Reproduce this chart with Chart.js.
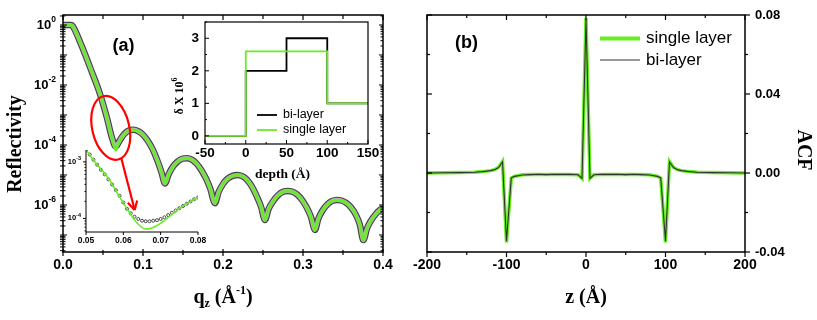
<!DOCTYPE html>
<html>
<head>
<meta charset="utf-8">
<title>Reflectivity and ACF</title>
<script src="https://cdn.jsdelivr.net/npm/chart.js@4.4.1/dist/chart.umd.min.js"></script>
<style>
  body { margin: 0; background: #fff; }
  #wrap { position: relative; width: 817px; height: 320px; overflow: hidden; }
  #wrap canvas { position: absolute; top: 0; }
</style>
</head>
<body>
<div id="wrap">
  <canvas id="reflChart" width="410" height="320" style="left:0"></canvas>
  <canvas id="zoomChart" width="410" height="320" style="left:0"></canvas>
  <canvas id="profileChart" width="410" height="320" style="left:0"></canvas>
  <canvas id="acfChart" width="407" height="320" style="left:410px"></canvas>
</div>
<script>
const SANS = '"Liberation Sans", Arial, sans-serif';
const SERIF = '"Liberation Serif", "Times New Roman", serif';
const GREEN = '#66ee22';

// (a) reflectivity, values kept as log10(R)
const qValues = [0, 0.005, 0.01, 0.012, 0.022, 0.036, 0.046, 0.055, 0.061, 0.066,
    0.069, 0.073, 0.078, 0.083, 0.088, 0.094, 0.100, 0.106, 0.112, 0.118,
    0.123, 0.1275, 0.132, 0.137, 0.143, 0.149, 0.155, 0.161, 0.167, 0.173,
    0.179, 0.184, 0.190, 0.1945, 0.200, 0.206, 0.212, 0.218, 0.224, 0.230,
    0.236, 0.242, 0.2475, 0.2525, 0.257, 0.263, 0.269, 0.275, 0.281, 0.287,
    0.293, 0.299, 0.305, 0.310, 0.315, 0.319, 0.324, 0.330, 0.336, 0.342,
    0.348, 0.354, 0.360, 0.366, 0.371, 0.3755, 0.380, 0.385, 0.391, 0.396, 0.400];
const logReflData = [0, 0, 0, -0.03, -0.61, -1.56, -2.28, -3.10, -3.74, -4.05,
    -3.94, -3.76, -3.60, -3.51, -3.49, -3.54, -3.66, -3.86, -4.14, -4.52,
    -4.90, -5.28, -4.98, -4.74, -4.56, -4.46, -4.44, -4.49, -4.62, -4.84,
    -5.13, -5.45, -5.94, -5.57, -5.30, -5.12, -5.03, -5.00, -5.04, -5.16,
    -5.38, -5.70, -6.05, -6.50, -6.13, -5.86, -5.67, -5.56, -5.53, -5.56,
    -5.66, -5.84, -6.10, -6.40, -6.83, -6.47, -6.20, -5.99, -5.87, -5.83,
    -5.85, -5.93, -6.08, -6.32, -6.65, -7.17, -6.78, -6.52, -6.30, -6.17, -6.10];
const logReflFit = [0, 0, 0, -0.03, -0.61, -1.56, -2.28, -3.10, -3.76, -4.18,
    -3.98, -3.76, -3.60, -3.51, -3.49, -3.54, -3.66, -3.86, -4.14, -4.52,
    -4.90, -5.28, -4.98, -4.74, -4.56, -4.46, -4.44, -4.49, -4.62, -4.84,
    -5.13, -5.45, -5.94, -5.57, -5.30, -5.12, -5.03, -5.00, -5.04, -5.16,
    -5.38, -5.70, -6.05, -6.50, -6.13, -5.86, -5.67, -5.56, -5.53, -5.56,
    -5.66, -5.84, -6.10, -6.40, -6.83, -6.47, -6.20, -5.99, -5.87, -5.83,
    -5.85, -5.93, -6.08, -6.32, -6.65, -7.17, -6.78, -6.52, -6.30, -6.17, -6.10];
const qTicks = ['0.0', '0.1', '0.2', '0.3', '0.4'];
const qMinorTicks = [0.05, 0.15, 0.25, 0.35];
const reflLabelExps = [0, -2, -4, -6];

// zoomed inset around the first minimum
const qZoom = [0.050, 0.051, 0.052, 0.053, 0.054, 0.055, 0.056, 0.057, 0.058, 0.059,
    0.060, 0.061, 0.062, 0.063, 0.064, 0.065, 0.066, 0.067, 0.068, 0.069,
    0.070, 0.071, 0.072, 0.073, 0.074, 0.075, 0.076, 0.077, 0.078, 0.079, 0.080];
const logZoomData = [-2.79, -2.87, -2.96, -3.05, -3.14, -3.22, -3.31, -3.40, -3.50, -3.60,
    -3.72, -3.83, -3.91, -3.97, -4.01, -4.04, -4.05, -4.05, -4.04, -4.03,
    -4.01, -3.98, -3.94, -3.90, -3.86, -3.82, -3.78, -3.74, -3.70, -3.66, -3.63];
const qZoomFit = [0.050, 0.053, 0.056, 0.059, 0.0612, 0.0634, 0.0661, 0.0692, 0.0728, 0.0764, 0.080];
const logZoomFit = [-2.79, -3.05, -3.29, -3.62, -3.85, -4.06, -4.19, -4.12, -3.94, -3.76, -3.63];
const qZoomTicks = ['0.05', '0.06', '0.07', '0.08'];
const zoomLabelExps = [-3, -4];

// density profile inset
const depth = [-50, 0, 50, 100, 150];
const deltaBiLayer = [0, 2, 3, 1, 1];
const deltaSingleLayer = [0, 2.6, 2.6, 1, 1];
const depthTicks = ['-50', '0', '50', '100', '150'];
const depthMinorTicks = [-25, 25, 75, 125];
const deltaTicks = ['0', '1', '2', '3'];
const deltaMinorTicks = [0.5, 1.5, 2.5, 3.5];

// (b) auto-correlation function
const zValues = [-200, -180, -160, -140, -130, -120, -115, -110, -105, -100,
    -94, -90, -80, -70, -60, -50, -40, -30, -20, -10, -5, 0, 5, 10, 20, 30,
    40, 50, 60, 70, 80, 90, 94, 100, 105, 110, 115, 120, 130, 140, 160, 180, 200];
const acfBiLayer = [0, 0.0001, 0.0002, 0.0004, 0.0007, 0.0012, 0.0017, 0.0028, 0.0056, -0.0345,
    -0.0025, -0.0017, -0.0010, -0.0008, -0.0006, -0.0008, -0.0006, -0.0007, -0.0006, -0.0009,
    -0.0027, 0.0778, -0.0027, -0.0009, -0.0006, -0.0007, -0.0006, -0.0008, -0.0006, -0.0008,
    -0.0010, -0.0017, -0.0025, -0.0345, 0.0056, 0.0028, 0.0017, 0.0012, 0.0007, 0.0004,
    0.0002, 0.0001, 0];
const acfSingleLayer = [0, 0.0001, 0.0002, 0.0004, 0.0007, 0.0012, 0.0017, 0.0029, 0.0058, -0.0352,
    -0.0026, -0.0017, -0.0009, -0.0007, -0.0007, -0.0007, -0.0007, -0.0007, -0.0007, -0.0009,
    -0.0028, 0.0784, -0.0028, -0.0009, -0.0007, -0.0007, -0.0007, -0.0007, -0.0007, -0.0007,
    -0.0009, -0.0017, -0.0026, -0.0352, 0.0058, 0.0029, 0.0017, 0.0012, 0.0007, 0.0004,
    0.0002, 0.0001, 0];
const zTicks = ['-200', '-100', '0', '100', '200'];
const zMinorTicks = [-150, -50, 50, 150];
const acfTicks = ['-0.04', '0.00', '0.04', '0.08'];
const acfMinorTicks = [-0.02, 0.02, 0.06];


function line(ctx, x1, y1, x2, y2) {
    ctx.beginPath();
    ctx.moveTo(x1, y1);
    ctx.lineTo(x2, y2);
    ctx.stroke();
}

// text made of pieces with their own font and vertical shift (sub/superscripts)
function rich(ctx, parts, x, y, align) {
    let w = 0;
    parts.forEach(p => { ctx.font = p.font; w += ctx.measureText(p.t).width; });
    let cx = align === 'center' ? x - w / 2 : align === 'right' ? x - w : x;
    ctx.textAlign = 'left';
    parts.forEach(p => {
        ctx.font = p.font;
        ctx.fillText(p.t, cx, y + (p.dy || 0));
        cx += ctx.measureText(p.t).width;
    });
}

function powLabel(ctx, exp, x, y, size, supSize) {
    ctx.textBaseline = 'middle';
    rich(ctx, [
        { t: '10', font: `bold ${size}px ${SANS}` },
        { t: String(exp), font: `bold ${supSize}px ${SANS}`, dy: -size * 0.4 }
    ], x, y, 'right');
}

function logTicks(scale) {
    const out = [];
    const lo = Math.log10(scale.min), hi = Math.log10(scale.max);
    for (let e = Math.floor(lo); e <= Math.ceil(hi); e++) {
        for (let m = 1; m <= 9; m++) {
            const v = m * Math.pow(10, e), l = Math.log10(v);
            if (l >= lo - 1e-9 && l <= hi + 1e-9) out.push({ v: v, major: m === 1 });
        }
    }
    return out;
}

function legendRow(ctx, x1, x2, y, color, width, text, font) {
    ctx.strokeStyle = color;
    ctx.lineWidth = width;
    line(ctx, x1, y, x2, y);
    ctx.fillStyle = '#000';
    ctx.font = font;
    ctx.textAlign = 'left';
    ctx.textBaseline = 'middle';
    ctx.fillText(text, x2 + 6, y);
}

const baseOptions = (padding, scales) => ({
    responsive: false,
    animation: false,
    events: [],
    layout: { padding: padding },
    scales: scales,
    plugins: { legend: { display: false }, tooltip: { enabled: false } }
});

// ---------- (a) main reflectivity panel ----------
const reflDecor = {
    id: 'reflDecor',
    afterDraw(chart) {
        const { ctx, chartArea: a, scales: { x, y } } = chart;
        ctx.save();
        ctx.strokeStyle = '#000';
        ctx.fillStyle = '#000';
        ctx.lineWidth = 1.5;
        ctx.strokeRect(a.left, a.top, a.right - a.left, a.bottom - a.top);

        ctx.lineWidth = 1.2;
        qTicks.forEach(t => {
            const px = x.getPixelForValue(parseFloat(t));
            line(ctx, px, a.bottom - 3, px, a.bottom + 4);
            line(ctx, px, a.top, px, a.top + 5);
        });
        qMinorTicks.forEach(v => {
            const px = x.getPixelForValue(v);
            line(ctx, px, a.bottom - 2, px, a.bottom + 3);
            line(ctx, px, a.top, px, a.top + 4);
        });
        ctx.lineWidth = 1;
        logTicks(y).forEach(t => {
            const py = y.getPixelForValue(t.v);
            const len = t.major ? 4 : 2.5;
            line(ctx, a.left - 3, py, a.left + len, py);
            line(ctx, a.right - len, py, a.right, py);
        });

        ctx.font = `bold 14px ${SANS}`;
        ctx.textAlign = 'center';
        ctx.textBaseline = 'middle';
        qTicks.forEach(t => ctx.fillText(t, x.getPixelForValue(parseFloat(t)), a.bottom + 13));
        reflLabelExps.forEach(e => powLabel(ctx, e, a.left - 7, y.getPixelForValue(Math.pow(10, e)), 13, 8.5));

        // axis titles
        ctx.save();
        ctx.translate(16, 144);
        ctx.rotate(-Math.PI / 2);
        ctx.font = `bold 20px ${SERIF}`;
        ctx.textAlign = 'center';
        ctx.textBaseline = 'middle';
        ctx.fillText('Reflectivity', 0, 0);
        ctx.restore();

        ctx.textBaseline = 'alphabetic';
        rich(ctx, [
            { t: 'q', font: `bold 20px ${SERIF}` },
            { t: 'z', font: `bold 12px ${SERIF}`, dy: 4 },
            { t: ' (Å', font: `bold 20px ${SERIF}` },
            { t: '-1', font: `bold 12px ${SERIF}`, dy: -9 },
            { t: ')', font: `bold 20px ${SERIF}` }
        ], (a.left + a.right) / 2, 303, 'center');

        ctx.font = `bold 18px ${SANS}`;
        ctx.textAlign = 'center';
        ctx.textBaseline = 'middle';
        ctx.fillText('(a)', 123.5, 46);

        // red ellipse around the first minimum and arrow to the zoom
        ctx.strokeStyle = '#ff0000';
        ctx.lineWidth = 2.2;
        ctx.beginPath();
        ctx.ellipse(x.getPixelForValue(0.0597), y.getPixelForValue(Math.pow(10, -3.43)), 18.5, 32.5, -0.232, 0, Math.PI * 2);
        ctx.stroke();
        const ax1 = x.getPixelForValue(0.0729), ay1 = y.getPixelForValue(Math.pow(10, -4.44));
        const ax2 = x.getPixelForValue(0.0896), ay2 = y.getPixelForValue(Math.pow(10, -6.17));
        line(ctx, ax1, ay1, ax2, ay2);
        const ang = Math.atan2(ay2 - ay1, ax2 - ax1);
        [-0.5, 0.5].forEach(d => {
            line(ctx, ax2, ay2, ax2 - 10 * Math.cos(ang + d), ay2 - 10 * Math.sin(ang + d));
        });
        ctx.restore();
    }
};

const reflDataPoints = qValues.map((q, i) => ({ x: q, y: Math.pow(10, logReflData[i]) }));

new Chart(document.getElementById('reflChart'), {
    type: 'line',
    data: {
        datasets: [{
            label: 'single layer',
            data: qValues.map((q, i) => ({ x: q, y: Math.pow(10, logReflFit[i]) })),
            borderColor: GREEN,
            borderWidth: 2.5,
            pointRadius: 0,
            cubicInterpolationMode: 'monotone'
        }, {
            // open-circle look of the measured points: light core...
            label: 'bi-layer',
            data: reflDataPoints,
            borderColor: '#b4b4b4',
            borderWidth: 4.2,
            pointRadius: 0,
            cubicInterpolationMode: 'monotone'
        }, {
            // ...with dark rims
            label: 'bi-layer rim',
            data: reflDataPoints,
            borderColor: '#444444',
            borderWidth: 6.5,
            pointRadius: 0,
            cubicInterpolationMode: 'monotone'
        }]
    },
    options: baseOptions({ left: 63, top: 15, right: 27, bottom: 68 }, {
        x: { type: 'linear', min: 0, max: 0.4, display: false },
        y: { type: 'logarithmic', min: Math.pow(10, -7.567), max: Math.pow(10, 0.333), display: false }
    }),
    plugins: [reflDecor]
});

// ---------- zoom inset ----------
const zoomDecor = {
    id: 'zoomDecor',
    afterDraw(chart) {
        const { ctx, chartArea: a, scales: { x, y } } = chart;
        ctx.save();
        ctx.strokeStyle = '#000';
        ctx.fillStyle = '#000';
        ctx.lineWidth = 1;
        line(ctx, a.left, a.top, a.left, a.bottom);
        line(ctx, a.left, a.bottom, a.right, a.bottom);
        qZoomTicks.forEach(t => {
            const px = x.getPixelForValue(parseFloat(t));
            line(ctx, px, a.bottom, px, a.bottom + 3);
        });
        logTicks(y).forEach(t => {
            const py = y.getPixelForValue(t.v);
            line(ctx, a.left - (t.major ? 3 : 1.5), py, a.left, py);
        });
        ctx.font = `bold 8.5px ${SANS}`;
        ctx.textAlign = 'center';
        ctx.textBaseline = 'middle';
        qZoomTicks.forEach(t => ctx.fillText(t, x.getPixelForValue(parseFloat(t)), a.bottom + 8.5));
        zoomLabelExps.forEach(e => powLabel(ctx, e, a.left - 5, y.getPixelForValue(Math.pow(10, e)), 7.5, 5.5));
        ctx.restore();
    }
};

new Chart(document.getElementById('zoomChart'), {
    type: 'line',
    data: {
        datasets: [{
            label: 'single layer',
            data: qZoomFit.map((q, i) => ({ x: q, y: Math.pow(10, logZoomFit[i]) })),
            borderColor: GREEN,
            borderWidth: 1.6,
            pointRadius: 0,
            cubicInterpolationMode: 'monotone'
        }, {
            label: 'bi-layer',
            data: qZoom.map((q, i) => ({ x: q, y: Math.pow(10, logZoomData[i]) })),
            showLine: false,
            pointRadius: 1.5,
            pointBorderWidth: 0.8,
            pointBorderColor: '#222222',
            pointBackgroundColor: 'rgba(255,255,255,0)'
        }]
    },
    options: baseOptions({ left: 86, top: 150, right: 212, bottom: 88 }, {
        x: { type: 'linear', min: 0.05, max: 0.08, display: false },
        y: { type: 'logarithmic', min: Math.pow(10, -4.24), max: Math.pow(10, -2.79), display: false }
    }),
    plugins: [zoomDecor]
});

// ---------- density profile inset ----------
const profileDecor = {
    id: 'profileDecor',
    afterDraw(chart) {
        const { ctx, chartArea: a, scales: { x, y } } = chart;
        ctx.save();
        ctx.strokeStyle = '#000';
        ctx.fillStyle = '#000';
        ctx.lineWidth = 1.2;
        ctx.strokeRect(a.left, a.top, a.right - a.left, a.bottom - a.top);
        ctx.lineWidth = 1;
        depthTicks.forEach(t => {
            const px = x.getPixelForValue(parseFloat(t));
            line(ctx, px, a.bottom, px, a.bottom - 4);
        });
        depthMinorTicks.forEach(v => {
            const px = x.getPixelForValue(v);
            line(ctx, px, a.bottom, px, a.bottom - 2);
        });
        deltaTicks.forEach(t => {
            const py = y.getPixelForValue(parseFloat(t));
            line(ctx, a.left, py, a.left + 4, py);
        });
        deltaMinorTicks.forEach(v => {
            const py = y.getPixelForValue(v);
            line(ctx, a.left, py, a.left + 2, py);
        });

        ctx.font = `bold 13.5px ${SANS}`;
        ctx.textAlign = 'center';
        ctx.textBaseline = 'middle';
        depthTicks.forEach(t => ctx.fillText(t, x.getPixelForValue(parseFloat(t)), a.bottom + 9.5));
        ctx.textAlign = 'right';
        deltaTicks.forEach(t => ctx.fillText(t, a.left - 6, y.getPixelForValue(parseFloat(t))));

        ctx.save();
        ctx.translate(180, 96);
        ctx.rotate(-Math.PI / 2);
        ctx.textBaseline = 'middle';
        rich(ctx, [
            { t: 'δ X 10', font: `bold 12px ${SERIF}` },
            { t: '6', font: `bold 8px ${SERIF}`, dy: -5 }
        ], 0, 0, 'center');
        ctx.restore();

        ctx.font = `bold 13.5px ${SERIF}`;
        ctx.textAlign = 'center';
        ctx.textBaseline = 'middle';
        ctx.fillText('depth (Å)', (a.left + a.right) / 2 - 4, 175);

        legendRow(ctx, 257, 277, 115, '#000', 1.8, 'bi-layer', `12.5px ${SANS}`);
        legendRow(ctx, 257, 277, 130, GREEN, 1.8, 'single layer', `12.5px ${SANS}`);
        ctx.restore();
    }
};

new Chart(document.getElementById('profileChart'), {
    type: 'line',
    data: {
        datasets: [{
            label: 'single layer',
            data: depth.map((d, i) => ({ x: d, y: deltaSingleLayer[i] })),
            borderColor: GREEN,
            borderWidth: 1.8,
            pointRadius: 0,
            stepped: 'before'
        }, {
            label: 'bi-layer',
            data: depth.map((d, i) => ({ x: d, y: deltaBiLayer[i] })),
            borderColor: '#000000',
            borderWidth: 1.8,
            pointRadius: 0,
            stepped: 'before'
        }]
    },
    options: baseOptions({ left: 205, top: 22, right: 42, bottom: 176 }, {
        x: { type: 'linear', min: -50, max: 150, display: false },
        y: { type: 'linear', min: -0.25, max: 3.5, display: false }
    }),
    plugins: [profileDecor]
});

// ---------- (b) ACF panel ----------
const acfDecor = {
    id: 'acfDecor',
    afterDraw(chart) {
        const { ctx, chartArea: a, scales: { x, y } } = chart;
        ctx.save();
        ctx.strokeStyle = '#000';
        ctx.fillStyle = '#000';
        ctx.lineWidth = 1.5;
        ctx.strokeRect(a.left, a.top, a.right - a.left, a.bottom - a.top);
        ctx.lineWidth = 1.2;
        zTicks.forEach(t => {
            const px = x.getPixelForValue(parseFloat(t));
            line(ctx, px, a.bottom, px, a.bottom + 5);
            line(ctx, px, a.top, px, a.top + 5);
        });
        zMinorTicks.forEach(v => {
            const px = x.getPixelForValue(v);
            line(ctx, px, a.bottom, px, a.bottom + 3);
            line(ctx, px, a.top, px, a.top + 3);
        });
        acfTicks.forEach(t => {
            const py = y.getPixelForValue(parseFloat(t));
            line(ctx, a.right, py, a.right + 5, py);
            line(ctx, a.left, py, a.left + 5, py);
        });
        acfMinorTicks.forEach(v => {
            const py = y.getPixelForValue(v);
            line(ctx, a.right, py, a.right + 3, py);
            line(ctx, a.left, py, a.left + 3, py);
        });

        ctx.font = `bold 14px ${SANS}`;
        ctx.textAlign = 'center';
        ctx.textBaseline = 'middle';
        zTicks.forEach(t => ctx.fillText(t, x.getPixelForValue(parseFloat(t)), a.bottom + 13));
        ctx.font = `bold 13px ${SANS}`;
        ctx.textAlign = 'left';
        acfTicks.forEach(t => ctx.fillText(t, a.right + 10, y.getPixelForValue(parseFloat(t))));

        ctx.textBaseline = 'alphabetic';
        rich(ctx, [{ t: 'z (Å)', font: `bold 20px ${SERIF}` }], (a.left + a.right) / 2, 303, 'center');

        ctx.save();
        ctx.translate(393, 150);
        ctx.rotate(Math.PI / 2);
        ctx.font = `bold 20px ${SERIF}`;
        ctx.textAlign = 'center';
        ctx.textBaseline = 'middle';
        ctx.fillText('ACF', 0, 0);
        ctx.restore();

        ctx.font = `bold 18px ${SANS}`;
        ctx.textAlign = 'center';
        ctx.textBaseline = 'middle';
        ctx.fillText('(b)', 56.5, 43);

        legendRow(ctx, 190, 230, 38.5, GREEN, 4, 'single layer', `17px ${SANS}`);
        legendRow(ctx, 190, 230, 60, '#333333', 1, 'bi-layer', `17px ${SANS}`);
        ctx.restore();
    }
};

new Chart(document.getElementById('acfChart'), {
    type: 'line',
    data: {
        datasets: [{
            label: 'bi-layer',
            data: zValues.map((z, i) => ({ x: z, y: acfBiLayer[i] })),
            borderColor: '#333333',
            borderWidth: 1.1,
            pointRadius: 0,
            tension: 0
        }, {
            label: 'single layer',
            data: zValues.map((z, i) => ({ x: z, y: acfSingleLayer[i] })),
            borderColor: GREEN,
            borderWidth: 3.5,
            pointRadius: 0,
            tension: 0
        }]
    },
    options: baseOptions({ left: 17, top: 15, right: 72, bottom: 68 }, {
        x: { type: 'linear', min: -200, max: 200, display: false },
        y: { type: 'linear', min: -0.04, max: 0.08, display: false }
    }),
    plugins: [acfDecor]
});
</script>
</body>
</html>
